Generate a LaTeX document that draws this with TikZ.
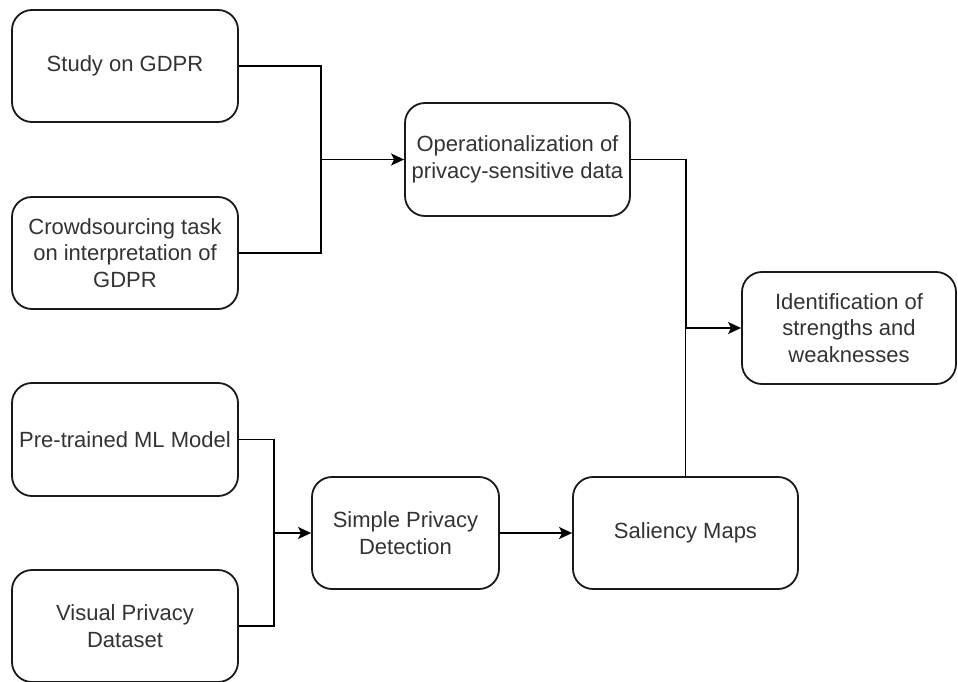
\documentclass[tikz,border=0pt]{standalone}
\usepackage{fontspec}
\setmainfont{Liberation Sans}
\usetikzlibrary{arrows.meta}
\begin{document}
\begin{tikzpicture}[x=1pt,y=-1pt,
  box/.style={draw=black!90, line width=1.8pt, rounded corners=20pt, fill=white,
    minimum width=226pt, minimum height=112pt, inner sep=0pt, align=center,
    text=black!80, font=\fontsize{22}{26.5}\selectfont},
  conn/.style={draw=black, line width=1.8pt},
  arr/.style={conn, -{Stealth[length=13pt,width=12pt,inset=3pt]}}]
\useasboundingbox (0,0) rectangle (958,682);
\node[box] (study) at (125,66) {Study on GDPR};
\node[box] (crowd) at (125,253) {Crowdsourcing task\\on interpretation of\\GDPR};
\node[box, minimum width=225pt, minimum height=113pt] (op) at (517.5,159.5) {Operationalization of\\privacy-sensitive data};
\node[box, minimum width=214pt] (ident) at (849,328) {Identification of\\strengths and\\weaknesses};
\node[box, minimum height=113pt] (pre) at (125,439.5) {Pre-trained ML Model};
\node[box] (vis) at (125,626) {Visual Privacy\\Dataset};
\node[box, minimum width=187pt] (simple) at (405.5,533) {Simple Privacy\\Detection};
\node[box, minimum width=225pt] (sal) at (685.5,533) {Saliency Maps};
\coordinate (j1) at (321,159.5);
\coordinate (j2) at (686,328);
\coordinate (j3) at (274,533);
\draw[conn] (study.east) -| (j1);
\draw[conn] (crowd.east) -| (j1);
\draw[arr] (j1) -- (op.west);
\draw[conn] (op.east) -| (j2);
\draw[conn] (sal.north) -- (sal.north |- j2);
\draw[arr] (j2) -- (ident.west);
\draw[conn] (pre.east) -| (j3);
\draw[conn] (vis.east) -| (j3);
\draw[arr] (j3) -- (simple.west);
\draw[arr] (simple.east) -- (sal.west);
\end{tikzpicture}
\end{document}
